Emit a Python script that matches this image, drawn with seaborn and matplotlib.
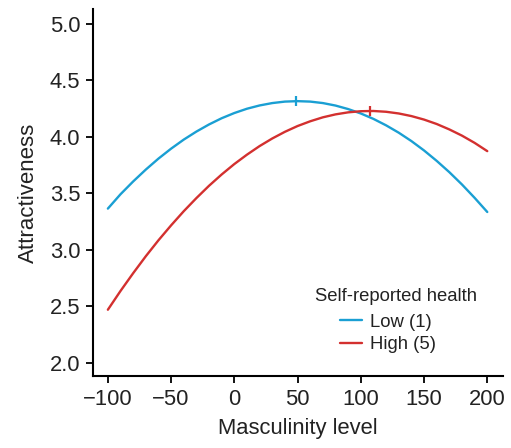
import numpy as np
import pandas as pd
import matplotlib
matplotlib.use("Agg")
import matplotlib.pyplot as plt
import seaborn as sns
from matplotlib.lines import Line2D

# Data
masculinity = [-100, -90, -80, -70, -60, -50, -40, -30, -20, -10, 0, 10, 20, 30, 40, 50,
               60, 70, 80, 90, 100, 110, 120, 130, 140, 150, 160, 170, 180, 190, 200]
low_health = [3.365, 3.492, 3.605, 3.710, 3.807, 3.895, 3.975, 4.046, 4.109, 4.164, 4.210,
              4.248, 4.277, 4.298, 4.311, 4.315, 4.311, 4.298, 4.276, 4.245, 4.206, 4.158,
              4.101, 4.036, 3.962, 3.879, 3.787, 3.687, 3.578, 3.460, 3.335]
high_health = [2.471, 2.637, 2.794, 2.944, 3.085, 3.217, 3.342, 3.458, 3.567, 3.667, 3.759,
               3.842, 3.918, 3.985, 4.044, 4.095, 4.137, 4.172, 4.198, 4.216, 4.226, 4.228,
               4.221, 4.206, 4.183, 4.152, 4.113, 4.065, 4.010, 3.946, 3.873]
group_labels = ["Low (1)", "High (5)"]
legend_title = "Self-reported health"
peak_x = [49, 107]
peak_y = [4.315, 4.228]
x_ticks = [-100, -50, 0, 50, 100, 150, 200]
y_ticks = [2.0, 2.5, 3.0, 3.5, 4.0, 4.5, 5.0]

colors = {"Low (1)": "#1a9fd3", "High (5)": "#d3302f"}

df = pd.DataFrame({
    "Masculinity level": masculinity * 2,
    "Attractiveness": low_health + high_health,
    "Self-reported health": [group_labels[0]] * len(masculinity) + [group_labels[1]] * len(masculinity),
})
peaks = pd.DataFrame({"x": peak_x, "y": peak_y, "g": group_labels})

sns.set_theme(style="ticks")
plt.rcParams["font.family"] = ["Liberation Sans", "DejaVu Sans"]
text_color = "#222222"

fig = plt.figure(figsize=(5.11, 4.48), dpi=100)
ax = fig.add_axes([0.1814, 0.1607, 0.8036, 0.8193])

sns.lineplot(data=df, x="Masculinity level", y="Attractiveness", hue="Self-reported health",
             palette=colors, linewidth=1.7, ax=ax, legend=False)
sns.scatterplot(data=peaks, x="x", y="y", hue="g", palette=colors, marker="|", s=55,
                linewidth=1.6, ax=ax, legend=False, zorder=3)

ax.set_xlim(-112, 212.7)
ax.set_ylim(1.885, 5.13)
ax.set_xticks(x_ticks)
ax.set_xticklabels(["\u2212100", "\u221250", "0", "50", "100", "150", "200"])
ax.set_yticks(y_ticks)
ax.set_yticklabels([f"{v:.1f}" for v in y_ticks])
ax.tick_params(axis="both", direction="out", length=5, width=1.3, labelsize=15.8,
               colors="black", labelcolor=text_color, pad=4)
for s in ["top", "right"]:
    ax.spines[s].set_visible(False)
for s in ["left", "bottom"]:
    ax.spines[s].set_linewidth(1.5)
    ax.spines[s].set_color("black")
ax.set_xlabel("Masculinity level", fontsize=15.8, color=text_color, labelpad=6)
ax.set_ylabel("Attractiveness", fontsize=16, color=text_color, labelpad=8)

fig.text(396 / 511, 1 - 296.5 / 448, legend_title, fontsize=13.3, color=text_color,
         ha="center", va="center")
handles = [Line2D([], [], color=colors[g], linewidth=1.7) for g in group_labels]
leg = ax.legend(handles, group_labels, frameon=False,
                fontsize=13.3, handlelength=1.2, handletextpad=0.45,
                labelspacing=0.28, loc="center", bbox_to_anchor=(388 / 511, 1 - 333.5 / 448),
                bbox_transform=fig.transFigure)
for t in leg.get_texts():
    t.set_color(text_color)

fig.savefig("out.png", dpi=100)
